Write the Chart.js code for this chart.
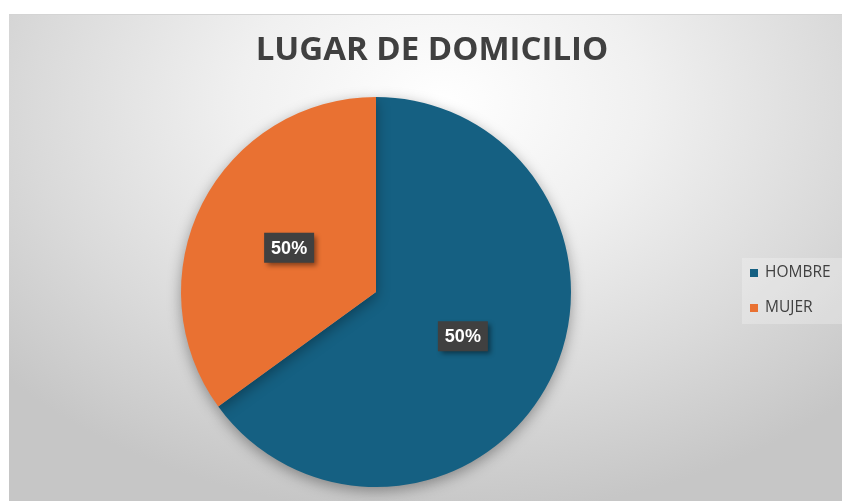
<!DOCTYPE html>
<html>
<head>
<meta charset="utf-8">
<script src="https://cdn.jsdelivr.net/npm/chart.js@4"></script>
<style>
  html, body { margin: 0; padding: 0; background: #fff; }
  #wrap {
    position: absolute; left: 9px; top: 14px; width: 833px; height: 487px;
    border-top: 1px solid #d4d4d4;
    background: radial-gradient(ellipse 70% 85% at 52% 18%, #ffffff 0%, #f0f0f0 35%, #dadada 70%, #c6c6c6 100%);
  }
  canvas { display: block; }
</style>
</head>
<body>
<div id="wrap"><canvas id="pieChart" width="833" height="486"></canvas></div>
<script>
// Lugar de domicilio
const chartTitle = "LUGAR DE DOMICILIO";
const categories = ["HOMBRE", "MUJER"];
const shares = [65, 35];
const shownLabels = ["50%", "50%"];
const colors = ["#156082", "#E97132"];

// drop shadow under the pie
const pieShadow = {
  id: "pieShadow",
  beforeDatasetsDraw(chart) {
    const c = chart.ctx;
    c.save();
    c.shadowColor = "rgba(0,0,0,0.35)";
    c.shadowBlur = 14;
    c.shadowOffsetY = 4;
  },
  afterDatasetsDraw(chart) {
    chart.ctx.restore();
  },
};

// dark boxed value labels at half radius
const boxLabels = {
  id: "boxLabels",
  afterDatasetsDraw(chart) {
    const c = chart.ctx;
    chart.getDatasetMeta(0).data.forEach((arc, i) => {
      const mid = (arc.startAngle + arc.endAngle) / 2;
      const r = arc.outerRadius / 2;
      const x = arc.x + Math.cos(mid) * r;
      const y = arc.y + Math.sin(mid) * r;
      const w = 50, h = 30;
      c.save();
      c.shadowColor = "rgba(0,0,0,0.45)";
      c.shadowBlur = 5;
      c.shadowOffsetX = 3;
      c.shadowOffsetY = 3;
      c.fillStyle = "#404040";
      c.fillRect(x - w / 2, y - h / 2, w, h);
      c.restore();
      c.save();
      c.fillStyle = "#ffffff";
      c.font = "bold 18px 'Liberation Sans', Arial, sans-serif";
      c.textAlign = "center";
      c.textBaseline = "middle";
      c.fillText(shownLabels[i], x, y + 1);
      c.restore();
    });
  },
};

// title + legend on the right
const decorations = {
  id: "decorations",
  afterDraw(chart) {
    const c = chart.ctx;
    c.save();
    c.fillStyle = "#404040";
    c.font = "bold 33px 'Open Sans', sans-serif";
    c.textAlign = "center";
    c.textBaseline = "middle";
    c.fillText(chartTitle, 423, 36);

    c.fillStyle = "rgba(255,255,255,0.25)";
    c.fillRect(733, 243, 100, 66);
    c.font = "15.5px 'Open Sans', sans-serif";
    c.textAlign = "left";
    categories.forEach((name, i) => {
      const y = 258 + i * 35;
      c.fillStyle = colors[i];
      c.fillRect(741, y - 4, 8, 8);
      c.fillStyle = "#404040";
      c.fillText(name, 756, y);
    });
    c.restore();
  },
};

new Chart(document.getElementById("pieChart"), {
  type: "pie",
  data: {
    labels: categories,
    datasets: [
      {
        data: shares,
        backgroundColor: colors,
        borderWidth: 0,
      },
    ],
  },
  options: {
    responsive: false,
    animation: false,
    layout: { padding: { left: 172, right: 271, top: 82, bottom: 14 } },
    plugins: {
      legend: { display: false },
      tooltip: { enabled: false },
      title: { display: false },
    },
  },
  plugins: [pieShadow, boxLabels, decorations],
});
</script>
</body>
</html>
